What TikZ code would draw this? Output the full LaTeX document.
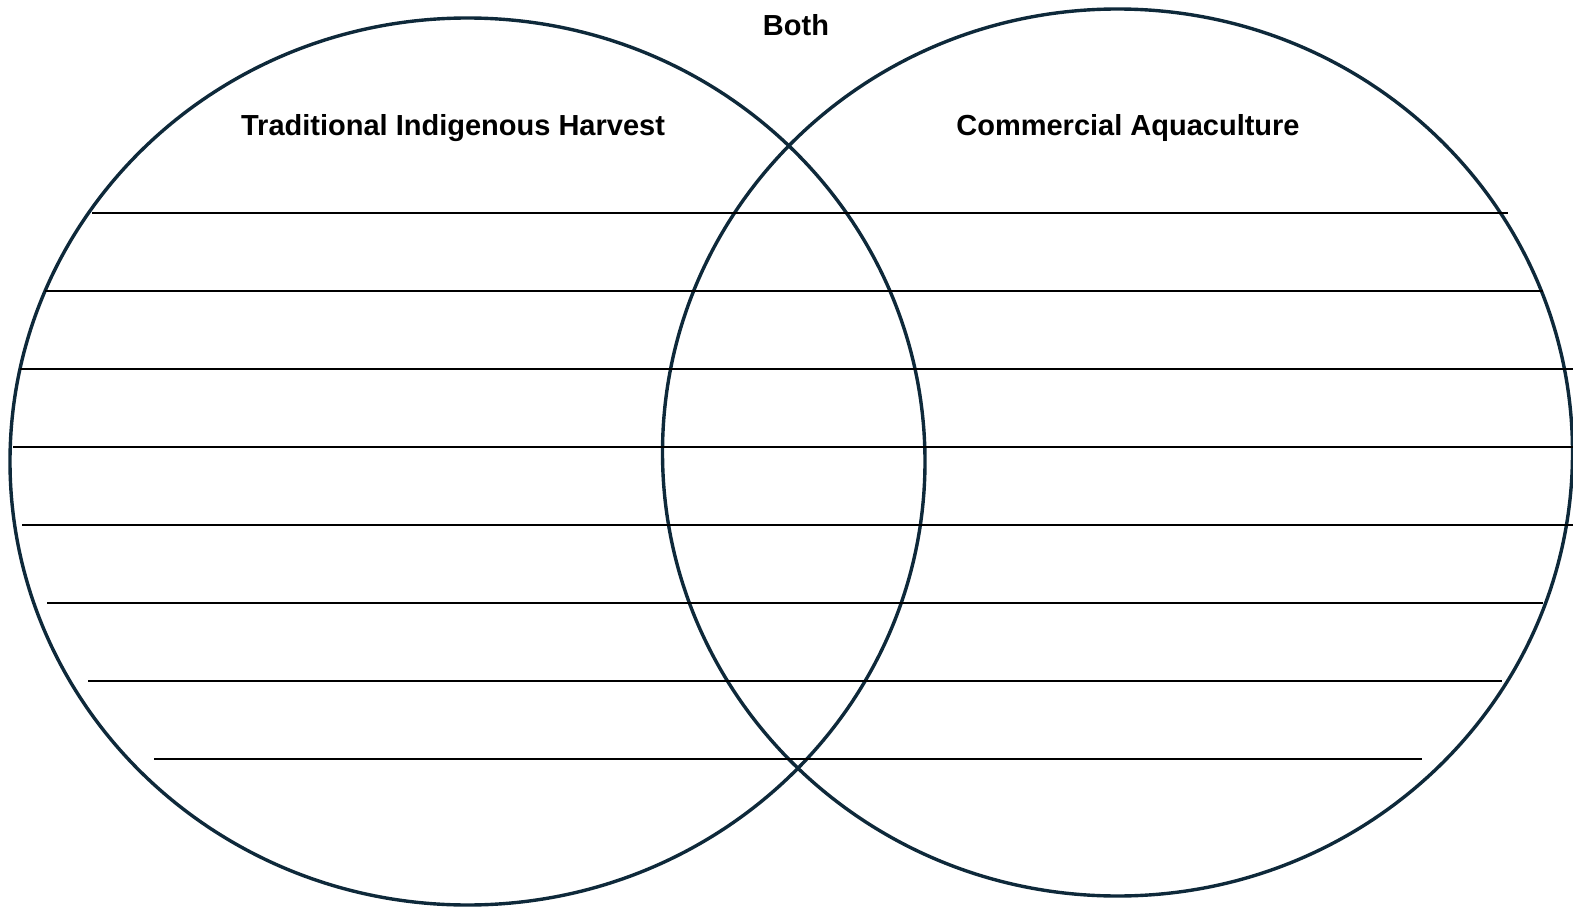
\documentclass[tikz,border=0pt]{standalone}
\usepackage{fontspec}
\setmainfont{Liberation Sans}
\usetikzlibrary{positioning}
\definecolor{inkblue}{RGB}{14,41,58}

\begin{document}
\begin{tikzpicture}[x=1pt, y=-1pt, every node/.style={font=\fontsize{29}{34}\selectfont\bfseries, inner sep=0pt},
  ring/.style={draw=inkblue, line width=3.4pt},
  rule/.style={draw=black, line width=2pt}]
\useasboundingbox (0,0) rectangle (1573,909);
\draw[ring] (467.5,461.5) ellipse [x radius=457.5pt, y radius=443.5pt];
\draw[ring] (1117.5,452.5) ellipse [x radius=455pt, y radius=443.5pt];
\foreach \y/\a/\b in {212.7/92/1508, 290.7/45/1543, 368.7/20/1573, 446.7/13/1573,
  524.7/22/1573, 602.7/47/1543, 680.7/88/1502, 758.7/154/1422}
  \draw[rule] (\a,\y) -- (\b,\y);
\node (both) at (796,25) {Both};
\node (trad) at (453,128) {Traditional Indigenous Harvest};
\node (comm) at (1128,128) {Commercial Aquaculture};
\end{tikzpicture}
\end{document}
